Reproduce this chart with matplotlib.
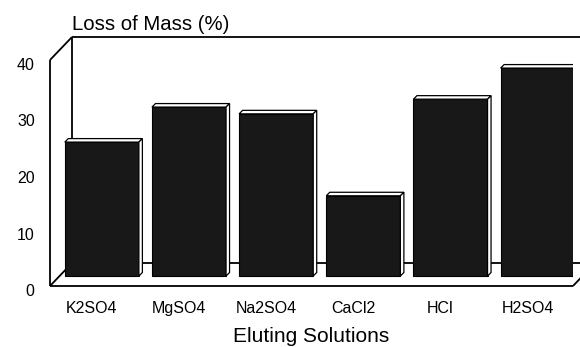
import matplotlib
matplotlib.use("Agg")
import matplotlib.pyplot as plt
from matplotlib.patches import Polygon
from matplotlib.transforms import ScaledTranslation

# Data
categories = ["K2SO4", "MgSO4", "Na2SO4", "CaCl2", "HCl", "H2SO4"]
loss_of_mass = [23.7, 29.9, 28.7, 14.2, 31.3, 36.8]
y_ticks = [0, 10, 20, 30, 40]

plt.rcParams["font.family"] = ["Liberation Sans", "DejaVu Sans"]

W, H = 580, 347
fig = plt.figure(figsize=(W / 100, H / 100), dpi=100)
fig.patch.set_facecolor("white")

# Front plane of the pseudo-3D box (pixel layout)
left_px, right_px, base_px, top_px = 50, 573, 286, 60
ax = fig.add_axes([left_px / W, (H - base_px) / H,
                   (right_px - left_px) / W, (base_px - top_px) / H])
xmin, xmax = -0.48, 5.52
ymin, ymax = 0, 40
ax.set_xlim(xmin, xmax)
ax.set_ylim(ymin, ymax)

px_x = (right_px - left_px) / (xmax - xmin)   # pixels per category unit
px_y = (base_px - top_px) / (ymax - ymin)     # pixels per value unit

def dx(p):
    return p / px_x

def dy(p):
    return p / px_y

# Depth offsets
back_dx, back_dy = dx(22), dy(23)
bar_dx, bar_dy = dx(10), dy(10)
bev_dx, bev_dy = dx(3.5), dy(3.5)

lw = 1.3
kw = dict(color="black", lw=lw, clip_on=False, solid_capstyle="butt")
x_right_back = xmax + back_dx
# back wall and floor edges
ax.plot([xmin + back_dx, x_right_back + 1], [ymax + back_dy, ymax + back_dy], zorder=1, **kw)
ax.plot([xmin + back_dx, xmin + back_dx], [ymin + back_dy, ymax + back_dy], zorder=1, **kw)
ax.plot([xmin + back_dx, x_right_back], [ymin + back_dy, ymin + back_dy], zorder=1, **kw)
ax.plot([xmin, xmin + back_dx], [ymax, ymax + back_dy], zorder=1, **kw)
ax.plot([xmin, xmin + back_dx], [ymin, ymin + back_dy], zorder=1, **kw)
ax.plot([xmax, xmax + back_dx], [ymin, ymin + back_dy], zorder=1, **kw)
# front edges
ax.plot([xmin, xmin], [ymin, ymax], zorder=5, **kw)
ax.plot([xmin, xmax], [ymin, ymin], zorder=5, **kw)

# Bars
xs = list(range(len(categories)))
bar_w = 0.85
bars = ax.bar([x + bar_dx for x in xs], loss_of_mass, width=bar_w, bottom=bar_dy,
              color="#181818", edgecolor="black", linewidth=0.8, zorder=3)

for b in bars:
    x0 = b.get_x()
    x1 = x0 + b.get_width()
    y0 = b.get_y()
    y1 = y0 + b.get_height()
    top = Polygon([(x0, y1), (x1, y1), (x1 + bev_dx, y1 + bev_dy), (x0 + bev_dx, y1 + bev_dy)],
                  closed=True, facecolor="white", edgecolor="black", lw=0.9, zorder=4)
    side = Polygon([(x1, y0), (x1, y1), (x1 + bev_dx, y1 + bev_dy), (x1 + bev_dx, y0 + bev_dy)],
                   closed=True, facecolor="white", edgecolor="black", lw=0.9, zorder=4)
    ax.add_patch(top)
    ax.add_patch(side)

# Axes styling
for s in ax.spines.values():
    s.set_visible(False)
ax.patch.set_alpha(0)
ax.set_xticks(xs)
ax.set_xticklabels(categories, fontsize=11.5)
ax.set_yticks(y_ticks)
ax.set_yticklabels([str(v) for v in y_ticks], fontsize=11.5)
ax.tick_params(axis="both", length=0)
ax.tick_params(axis="y", pad=11)
ax.tick_params(axis="x", pad=11)
shift = ScaledTranslation(0, -4 / 100, fig.dpi_scale_trans)
for lab in ax.get_yticklabels():
    lab.set_transform(lab.get_transform() + shift)

fig.text(72 / W, 1 - 24 / H, "Loss of Mass (%)", fontsize=14.7, ha="left", va="center")
fig.text(311 / W, 1 - 337 / H, "Eluting Solutions", fontsize=15, ha="center", va="center")

fig.savefig("out.png", dpi=100)
